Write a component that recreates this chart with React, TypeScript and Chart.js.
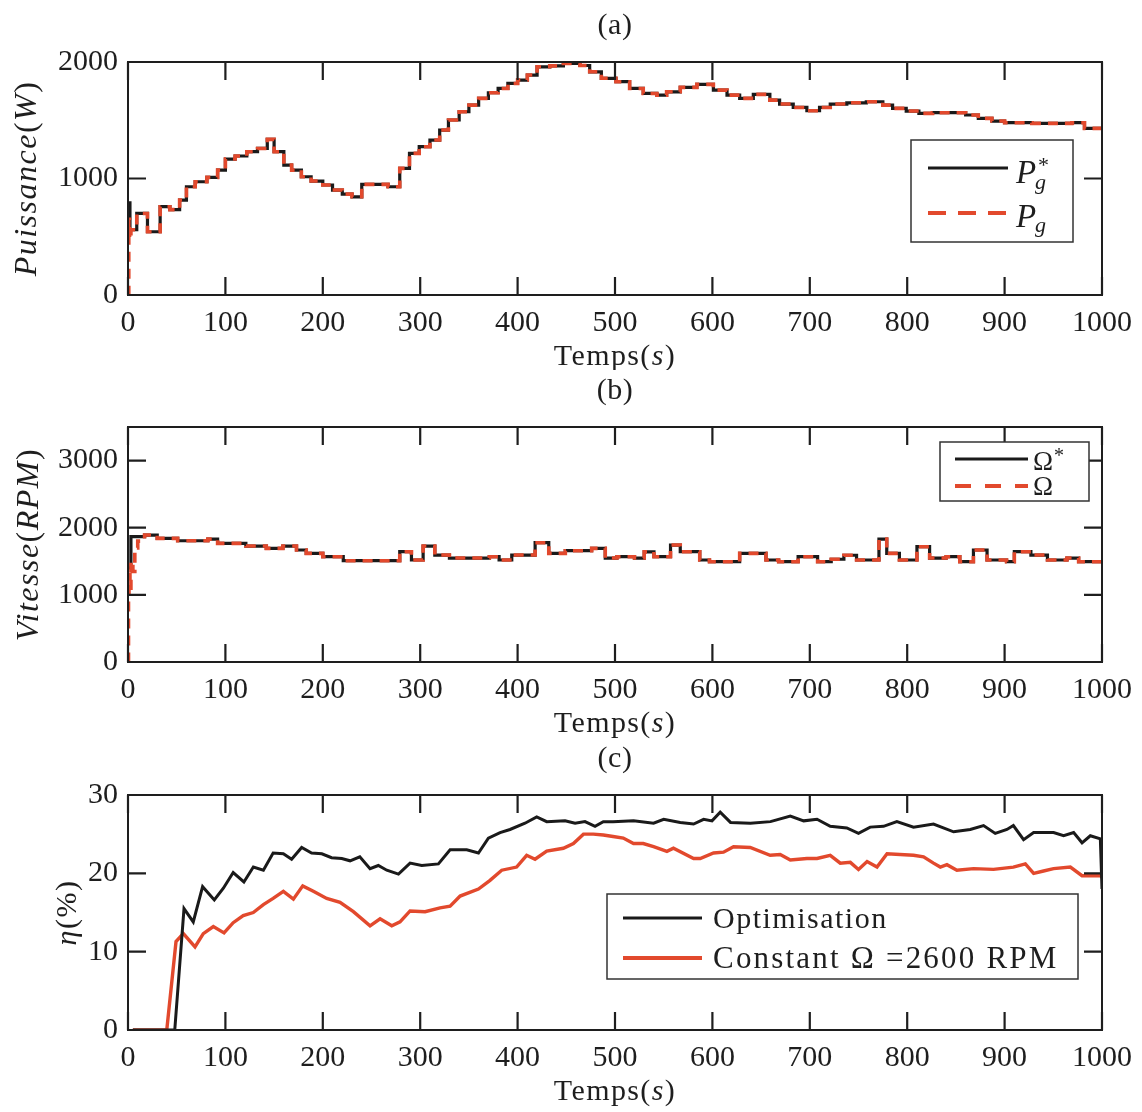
import React, { useEffect, useRef } from 'react';
import { Chart, registerables } from 'chart.js';
Chart.register(...registerables);

// ---------------- data ----------------
const X_TICKS = [0, 100, 200, 300, 400, 500, 600, 700, 800, 900, 1000];
const P_TICKS = [0, 1000, 2000];
const W_TICKS = [0, 1000, 2000, 3000];
const ETA_TICKS = [0, 10, 20, 30];

// (a) Puissance: reference P*g (step starts) and measured Pg
const pRefTime = [0, 2, 9, 20, 33, 43, 53, 60, 69, 81, 92, 100, 110, 122, 133, 143, 150, 160, 168, 178, 188, 200, 210, 220, 230, 240, 257, 267, 279, 289, 299, 310, 320, 329, 340, 350, 360, 370, 380, 390, 400, 410, 420, 433, 447, 464, 474, 486, 501, 515, 529, 543, 553, 567, 584, 601, 615, 628, 642, 659, 669, 683, 697, 710, 721, 738, 758, 775, 785, 799, 812, 826, 860, 873, 887, 900, 928, 969, 982, 1000];
const pRef = [790, 560, 700, 543, 758, 733, 815, 929, 972, 1010, 1072, 1167, 1193, 1230, 1258, 1336, 1230, 1115, 1072, 1015, 978, 944, 901, 866, 843, 950, 950, 929, 1087, 1216, 1273, 1330, 1416, 1502, 1573, 1630, 1688, 1736, 1773, 1816, 1845, 1888, 1959, 1967, 1988, 1970, 1916, 1860, 1831, 1773, 1730, 1716, 1744, 1782, 1808, 1759, 1716, 1688, 1722, 1673, 1639, 1610, 1582, 1610, 1639, 1650, 1659, 1630, 1602, 1579, 1559, 1565, 1545, 1516, 1493, 1479, 1473, 1479, 1430, 1430];
const pMeasTime = [0, 0.8, 1.6, 3, 9, 20, 33, 43, 53, 60, 69, 81, 92, 100, 110, 122, 133, 143, 150, 160, 168, 178, 188, 200, 210, 220, 230, 240, 257, 267, 279, 289, 299, 310, 320, 329, 340, 350, 360, 370, 380, 390, 400, 410, 420, 433, 447, 464, 474, 486, 501, 515, 529, 543, 553, 567, 584, 601, 615, 628, 642, 659, 669, 683, 697, 710, 721, 738, 758, 775, 785, 799, 812, 826, 860, 873, 887, 900, 928, 969, 982, 1000];
const pMeas = [0, 650, 480, 560, 700, 543, 758, 733, 815, 929, 972, 1010, 1072, 1167, 1193, 1230, 1258, 1336, 1230, 1115, 1072, 1015, 978, 944, 901, 866, 843, 950, 950, 929, 1087, 1216, 1273, 1330, 1416, 1502, 1573, 1630, 1688, 1736, 1773, 1816, 1845, 1888, 1959, 1967, 1988, 1970, 1916, 1860, 1831, 1773, 1730, 1716, 1744, 1782, 1808, 1759, 1716, 1688, 1722, 1673, 1639, 1610, 1582, 1610, 1639, 1650, 1659, 1630, 1602, 1579, 1559, 1565, 1545, 1516, 1493, 1479, 1473, 1479, 1430, 1430];

// (b) Vitesse: reference Omega* and measured Omega
const wRefTime = [0, 3, 17, 30, 51, 82, 92, 121, 142, 159, 173, 183, 200, 221, 279, 291, 303, 315, 330, 371, 381, 394, 418, 432, 449, 476, 490, 502, 520, 530, 540, 557, 567, 587, 597, 628, 655, 668, 688, 708, 722, 735, 748, 771, 779, 792, 810, 823, 840, 854, 868, 882, 902, 910, 927, 944, 964, 976, 1000];
const wRef = [1400, 1866, 1891, 1841, 1806, 1830, 1767, 1727, 1693, 1727, 1668, 1618, 1568, 1509, 1643, 1519, 1727, 1593, 1548, 1568, 1519, 1593, 1777, 1618, 1658, 1693, 1548, 1568, 1548, 1640, 1568, 1742, 1643, 1519, 1494, 1618, 1519, 1494, 1568, 1494, 1530, 1590, 1519, 1831, 1618, 1519, 1717, 1548, 1568, 1494, 1668, 1519, 1494, 1643, 1593, 1519, 1548, 1494, 1494];
const wMeasTime = [0, 0.5, 1, 2, 3, 5, 7, 10, 17, 30, 51, 82, 92, 121, 142, 159, 173, 183, 200, 221, 279, 291, 303, 315, 330, 371, 381, 394, 418, 432, 449, 476, 490, 502, 520, 530, 540, 557, 567, 587, 597, 628, 655, 668, 688, 708, 722, 735, 748, 771, 779, 792, 810, 823, 840, 854, 868, 882, 902, 910, 927, 944, 964, 976, 1000];
const wMeas = [0, 900, 1300, 1100, 1500, 1350, 1700, 1800, 1891, 1841, 1806, 1830, 1767, 1727, 1693, 1727, 1668, 1618, 1568, 1509, 1643, 1519, 1727, 1593, 1548, 1568, 1519, 1593, 1777, 1618, 1658, 1693, 1548, 1568, 1548, 1640, 1568, 1742, 1643, 1519, 1494, 1618, 1519, 1494, 1568, 1494, 1530, 1590, 1519, 1831, 1618, 1519, 1717, 1548, 1568, 1494, 1668, 1519, 1494, 1643, 1593, 1519, 1548, 1494, 1494];

// (c) Rendement
const optTime = [5, 48, 57.5, 67, 76.6, 88.6, 97.9, 108, 119, 128.7, 139, 149, 159.5, 168, 178.3, 188.5, 199, 209, 219.5, 228, 238, 248.5, 257, 265.7, 277.7, 289.6, 301.6, 318.7, 330.7, 347.8, 359.8, 370, 382, 392.2, 407.6, 419.6, 429.9, 448.7, 459, 469.2, 479.5, 488, 498, 519, 539.6, 550, 567, 580.7, 591, 599.6, 608, 618.6, 639, 659.6, 680, 693.7, 707.4, 721, 738, 750, 762, 775.7, 789.4, 806.5, 827, 847.6, 864.7, 878.4, 890.4, 902.4, 909, 919.5, 929.8, 950.3, 960.6, 970.9, 979.5, 988, 998.3, 1000];
const optEta = [0, 0, 15.5, 13.8, 18.3, 16.6, 18.1, 20.1, 18.9, 20.8, 20.4, 22.6, 22.5, 21.8, 23.3, 22.6, 22.5, 22.0, 21.9, 21.6, 22.1, 20.6, 21.0, 20.4, 19.9, 21.3, 21.0, 21.2, 23.0, 23.0, 22.6, 24.5, 25.2, 25.6, 26.4, 27.2, 26.6, 26.7, 26.4, 26.6, 26.0, 26.6, 26.6, 26.7, 26.4, 26.9, 26.5, 26.3, 26.9, 26.7, 27.8, 26.5, 26.4, 26.6, 27.3, 26.7, 26.9, 26.0, 25.8, 25.1, 25.9, 26.0, 26.6, 25.9, 26.3, 25.3, 25.6, 26.1, 25.1, 25.6, 26.1, 24.3, 25.2, 25.2, 24.8, 25.2, 23.9, 24.8, 24.4, 18.0];
const cstTime = [5, 39.8, 49.3, 56.8, 68.8, 77.3, 87.6, 98.6, 108, 118.3, 128.6, 139, 149, 159.5, 169.8, 179.4, 190.3, 204, 217.7, 231.4, 248.5, 258.8, 270.8, 279.3, 289.6, 305, 320.4, 330.7, 341, 359.8, 371.7, 383.7, 399, 409.3, 417.9, 429.9, 447, 457.3, 467.6, 477.8, 488, 498, 508.5, 519, 529, 539.6, 553.3, 560, 580.7, 587.5, 601.2, 611.4, 621.7, 638.8, 659.3, 669.6, 680, 697, 707.4, 721, 731.3, 741.6, 750, 758.8, 769, 779.3, 806.5, 816.8, 827, 834, 840.8, 851, 868.1, 888.6, 909, 921.3, 929.8, 940, 950.3, 967.5, 979.5, 998.3, 1000];
const cstEta = [0, 0, 11.3, 12.3, 10.6, 12.3, 13.2, 12.4, 13.7, 14.6, 15.0, 16.0, 16.8, 17.7, 16.7, 18.4, 17.7, 16.8, 16.3, 15.1, 13.3, 14.2, 13.3, 13.8, 15.2, 15.1, 15.6, 15.8, 17.1, 18.0, 19.1, 20.4, 20.8, 22.3, 21.8, 22.85, 23.2, 23.8, 25.0, 25.0, 24.9, 24.7, 24.5, 23.8, 23.8, 23.4, 22.8, 23.2, 21.9, 21.9, 22.6, 22.7, 23.4, 23.3, 22.3, 22.4, 21.7, 21.9, 21.9, 22.3, 21.3, 21.4, 20.5, 21.5, 20.8, 22.5, 22.3, 22.1, 21.3, 20.8, 21.1, 20.4, 20.6, 20.5, 20.8, 21.2, 20.0, 20.3, 20.6, 20.8, 19.7, 19.7, 19.5];

// ---------------- style ----------------
const SERIF = '"Liberation Serif", "Times New Roman", serif';
const INK = '#1e1e1e';
const BLACK = '#1a1a1a';
const RED = '#e2492d';

type Run = { t: string; f: string; dy?: number };

function drawRuns(ctx: CanvasRenderingContext2D, runs: Run[], x: number, y: number, align: 'left' | 'center', spacing = 0) {
  (ctx as any).letterSpacing = spacing + 'px';
  let w = 0;
  for (const r of runs) { ctx.font = r.f; w += ctx.measureText(r.t).width; }
  let cx = align === 'center' ? x - w / 2 : x;
  ctx.textAlign = 'left';
  for (const r of runs) {
    ctx.font = r.f;
    ctx.fillText(r.t, cx, y + (r.dy || 0));
    cx += ctx.measureText(r.t).width;
  }
  (ctx as any).letterSpacing = '0px';
}

const it = (s: number) => `italic ${s}px ${SERIF}`;
const rm = (s: number) => `${s}px ${SERIF}`;

function toXY(t: number[], v: number[]) {
  return t.map((x, i) => ({ x, y: v[i] }));
}

interface PanelSpec {
  top: number;
  height: number;
  areaTop: number;
  areaBottom: number;
  yMin: number;
  yMax: number;
  yTicks: number[];
  datasets: any[];
  title: string;
  yLabel: Run[];
  yLabelX: number;
  legend: (ctx: CanvasRenderingContext2D) => void;
}

function legendBox(ctx: CanvasRenderingContext2D, x: number, y: number, w: number, h: number) {
  ctx.save();
  ctx.fillStyle = '#ffffff';
  ctx.fillRect(x, y, w, h);
  ctx.strokeStyle = '#333';
  ctx.lineWidth = 1.5;
  ctx.strokeRect(x, y, w, h);
  ctx.restore();
}

function sample(ctx: CanvasRenderingContext2D, x1: number, x2: number, y: number, color: string, width: number, dash: number[]) {
  ctx.save();
  ctx.strokeStyle = color;
  ctx.lineWidth = width;
  ctx.setLineDash(dash);
  ctx.beginPath();
  ctx.moveTo(x1, y);
  ctx.lineTo(x2, y);
  ctx.stroke();
  ctx.restore();
}

const PANELS: PanelSpec[] = [
  {
    top: 0, height: 370, areaTop: 62, areaBottom: 295,
    yMin: 0, yMax: 2000, yTicks: P_TICKS,
    datasets: [
      { data: toXY(pRefTime, pRef), borderColor: BLACK, borderWidth: 3.2, stepped: 'before', order: 2 },
      { data: toXY(pMeasTime, pMeas), borderColor: RED, borderWidth: 3.6, stepped: 'before', borderDash: [10, 7], order: 1 },
    ],
    title: '(a)',
    yLabel: [{ t: 'Puissance', f: it(32) }, { t: '(', f: rm(32) }, { t: 'W', f: it(32) }, { t: ')', f: rm(32) }],
    yLabelX: 28,
    legend: (ctx) => {
      legendBox(ctx, 911, 140, 162, 102);
      sample(ctx, 928, 1008, 168, BLACK, 3.2, []);
      sample(ctx, 928, 1008, 213, RED, 3.8, [18, 12]);
      ctx.fillStyle = INK;
      ctx.textBaseline = 'alphabetic';
      ctx.textAlign = 'left';
      ctx.font = it(33); ctx.fillText('P', 1016, 183);
      ctx.font = rm(22); ctx.fillText('*', 1038, 172);
      ctx.font = it(22); ctx.fillText('g', 1035, 189);
      ctx.font = it(33); ctx.fillText('P', 1016, 227);
      ctx.font = it(22); ctx.fillText('g', 1035, 232);
    },
  },
  {
    top: 370, height: 370, areaTop: 57, areaBottom: 292,
    yMin: 0, yMax: 3500, yTicks: W_TICKS,
    datasets: [
      { data: toXY(wRefTime, wRef), borderColor: BLACK, borderWidth: 3.2, stepped: 'before', order: 2 },
      { data: toXY(wMeasTime, wMeas), borderColor: RED, borderWidth: 3.6, stepped: 'before', borderDash: [10, 7], order: 1 },
    ],
    title: '(b)',
    yLabel: [{ t: 'Vitesse', f: it(32) }, { t: '(', f: rm(32) }, { t: 'RPM', f: it(32) }, { t: ')', f: rm(32) }],
    yLabelX: 30,
    legend: (ctx) => {
      const o = -370;
      legendBox(ctx, 940, 442 + o, 149, 59);
      sample(ctx, 955, 1028, 459 + o, BLACK, 3.2, []);
      sample(ctx, 955, 1028, 486 + o, RED, 3.8, [16, 14]);
      ctx.fillStyle = INK;
      ctx.textBaseline = 'alphabetic';
      ctx.textAlign = 'left';
      ctx.font = rm(27); ctx.fillText('Ω', 1033, 470 + o);
      ctx.font = rm(20); ctx.fillText('*', 1054, 462 + o);
      ctx.font = rm(27); ctx.fillText('Ω', 1033, 495 + o);
    },
  },
  {
    top: 740, height: 372, areaTop: 55, areaBottom: 290,
    yMin: 0, yMax: 30, yTicks: ETA_TICKS,
    datasets: [
      { data: toXY(optTime, optEta), borderColor: BLACK, borderWidth: 3, order: 1 },
      { data: toXY(cstTime, cstEta), borderColor: RED, borderWidth: 3.4, order: 2 },
    ],
    title: '(c)',
    yLabel: [{ t: 'η', f: it(30) }, { t: '(%)', f: rm(30) }],
    yLabelX: 68,
    legend: (ctx) => {
      const o = -740;
      legendBox(ctx, 607, 894 + o, 471, 85);
      sample(ctx, 623, 702, 918 + o, BLACK, 3.2, []);
      sample(ctx, 623, 702, 958 + o, RED, 3.8, []);
      ctx.fillStyle = INK;
      ctx.textBaseline = 'alphabetic';
      drawRuns(ctx, [{ t: 'Optimisation', f: rm(30) }], 713, 928 + o, 'left', 1.5);
      drawRuns(ctx, [{ t: 'Constant Ω =2600 RPM', f: rm(31) }], 713, 968 + o, 'left', 2.2);
    },
  },
];

function makeFramePlugin(spec: PanelSpec) {
  return {
    id: 'frame' + spec.title,
    afterDraw(chart: any) {
      const ctx: CanvasRenderingContext2D = chart.ctx;
      const { left, right, top, bottom } = chart.chartArea;
      const xs = chart.scales.x;
      const ys = chart.scales.y;
      ctx.save();
      ctx.strokeStyle = INK;
      ctx.lineWidth = 2.2;
      ctx.setLineDash([]);
      const TL = 18;
      ctx.beginPath();
      for (const v of X_TICKS) {
        const px = xs.getPixelForValue(v);
        ctx.moveTo(px, bottom); ctx.lineTo(px, bottom - TL);
        ctx.moveTo(px, top); ctx.lineTo(px, top + TL);
      }
      for (const v of spec.yTicks) {
        const py = ys.getPixelForValue(v);
        ctx.moveTo(left, py); ctx.lineTo(left + TL, py);
        ctx.moveTo(right, py); ctx.lineTo(right - TL, py);
      }
      ctx.stroke();
      ctx.lineWidth = 2;
      ctx.strokeRect(left, top, right - left, bottom - top);

      spec.legend(ctx);

      ctx.fillStyle = INK;
      const cx = (left + right) / 2;
      ctx.textBaseline = 'middle';
      drawRuns(ctx, [{ t: spec.title, f: rm(30) }], cx, top - 36, 'center', 0.5);
      drawRuns(ctx, [{ t: 'Temps(', f: rm(30) }, { t: 's', f: it(30) }, { t: ')', f: rm(30) }], cx, bottom + 62, 'center', 1.4);
      ctx.translate(spec.yLabelX, (top + bottom) / 2);
      ctx.rotate(-Math.PI / 2);
      drawRuns(ctx, spec.yLabel, 0, 0, 'center', 1.5);
      ctx.restore();
    },
  };
}

function Panel({ spec }: { spec: PanelSpec }) {
  const ref = useRef<HTMLCanvasElement | null>(null);
  useEffect(() => {
    if (!ref.current) return;
    const tickFont = { family: SERIF, size: 30 };
    const chart = new Chart(ref.current, {
      type: 'line',
      data: {
        datasets: spec.datasets.map((d) => ({ ...d, pointRadius: 0, fill: false, tension: 0 })),
      },
      options: {
        responsive: false,
        animation: false,
        events: [],
        layout: { padding: { top: spec.areaTop, right: 40, left: 0, bottom: 0 } },
        plugins: { legend: { display: false }, title: { display: false }, tooltip: { enabled: false } },
        scales: {
          x: {
            type: 'linear',
            min: 0,
            max: 1000,
            grid: { display: false, drawTicks: false },
            border: { display: false },
            afterBuildTicks: (s: any) => { s.ticks = X_TICKS.map((v) => ({ value: v })); },
            afterFit: (s: any) => { s.height = spec.height - spec.areaBottom; },
            ticks: { font: tickFont, color: INK, padding: 10, maxRotation: 0, autoSkip: false, callback: (v: any) => String(v) },
          },
          y: {
            type: 'linear',
            min: spec.yMin,
            max: spec.yMax,
            grid: { display: false, drawTicks: false },
            border: { display: false },
            afterBuildTicks: (s: any) => { s.ticks = spec.yTicks.map((v) => ({ value: v })); },
            afterFit: (s: any) => { s.width = 128; },
            ticks: { font: tickFont, color: INK, padding: 10, autoSkip: false, callback: (v: any) => String(v) },
          },
        },
      } as any,
      plugins: [makeFramePlugin(spec)],
    });
    return () => chart.destroy();
  }, [spec]);
  return (
    <div style={{ position: 'absolute', left: 0, top: spec.top, width: 1142, height: spec.height }}>
      <canvas ref={ref} width={1142} height={spec.height} style={{ display: 'block' }} />
    </div>
  );
}

export default function App() {
  return (
    <div style={{ position: 'absolute', left: 0, top: 0, width: 1142, height: 1112, background: '#fff' }}>
      {PANELS.map((p) => (
        <Panel key={p.title} spec={p} />
      ))}
    </div>
  );
}
